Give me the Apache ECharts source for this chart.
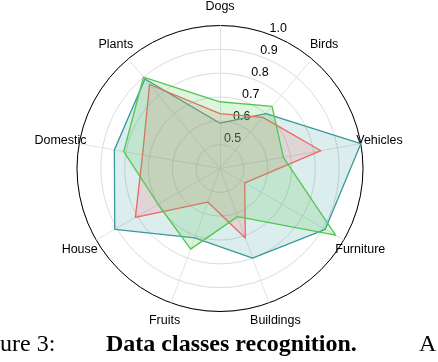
<!DOCTYPE html>
<html>
<head>
<meta charset="utf-8">
<script src="https://cdn.jsdelivr.net/npm/echarts@6/dist/echarts.min.js"></script>
<style>
  html, body { margin: 0; padding: 0; background: #fff; }
  #chart { width: 438px; height: 362px; }
</style>
</head>
<body>
<div id="chart"></div>
<script>
// classes, clockwise from the top
const categories = ['Dogs', 'Birds', 'Vehicles', 'Furniture', 'Buildings', 'Fruits', 'House', 'Domestic', 'Plants']
// radial scale
const rMin = 0.4
const rMax = 1.0
const tickLabels = ['0.5', '0.6', '0.7', '0.8', '0.9', '1.0']
// series values, same order as categories
const tealValues = [0.59, 0.70, 1.00, 0.91, 0.80, 0.71, 0.91, 0.85, 0.89]
const redValues = [0.63, 0.68, 0.83, 0.52, 0.71, 0.55, 0.81, 0.73, 0.86]
const greenValues = [0.68, 0.74, 0.67, 0.96, 0.615, 0.76, 0.70, 0.81, 0.90]

// echarts radar goes counter-clockwise, so flip the order (keep first on top)
const order = categories.map((c, i) => (i === 0 ? 0 : categories.length - i))
const flip = arr => order.map(i => arr[i])

const cx = 220
const cy = 168.5
const R = 143

const chart = echarts.init(document.getElementById('chart'))

const mkSeries = (vals, line, fill) => ({
  value: flip(vals),
  symbol: 'none',
  lineStyle: { color: line, width: 1.3 },
  areaStyle: { color: fill },
})

chart.setOption({
  animation: false,
  backgroundColor: '#fff',
  radar: {
    center: [cx, cy],
    radius: R,
    startAngle: 90,
    shape: 'circle',
    splitNumber: 6,
    indicator: flip(categories).map(n => ({ name: n, min: rMin, max: rMax })),
    axisNameGap: 19,
    axisName: {
      color: '#000',
      fontSize: 12.5,
      fontFamily: 'Liberation Sans',
      align: 'center',
      verticalAlign: 'middle',
    },
    axisLine: { lineStyle: { color: '#dcdcdc', width: 0.8 } },
    splitLine: {
      lineStyle: {
        // last one is the outer ring
        color: ['#dcdcdc', '#dcdcdc', '#dcdcdc', '#dcdcdc', '#dcdcdc', '#dcdcdc', '#000'],
        width: 1,
      },
    },
    splitArea: { show: false },
  },
  // only used for the radial tick labels
  polar: {
    center: [cx + 9 * Math.sin(Math.PI / 8), cy - 9 * Math.cos(Math.PI / 8)],
    radius: R,
  },
  angleAxis: {
    type: 'value',
    startAngle: 67.5,
    min: 0,
    max: 360,
    axisLine: { show: false },
    axisTick: { show: false },
    axisLabel: { show: false },
    splitLine: { show: false },
  },
  radiusAxis: {
    type: 'value',
    min: rMin,
    max: rMax,
    interval: 0.1,
    axisLine: { show: false },
    axisTick: { show: false },
    splitLine: { show: false },
    axisLabel: {
      showMinLabel: false,
      margin: 0,
      align: 'center',
      verticalAlign: 'middle',
      color: '#000',
      fontSize: 12.5,
      fontFamily: 'Liberation Sans',
      formatter: v => tickLabels.find(t => Math.abs(parseFloat(t) - v) < 1e-6) || '',
    },
  },
  series: [
    {
      type: 'radar',
      data: [
        mkSeries(tealValues, '#3a9a9c', 'rgba(58,154,156,0.25)'),
        mkSeries(redValues, '#f26464', 'rgba(242,100,100,0.25)'),
        mkSeries(greenValues, '#52c852', 'rgba(82,200,82,0.28)'),
      ],
    },
  ],
  // caption, cut off at the page edges like the scan
  graphic: [
    {
      type: 'text',
      left: -32,
      top: 333,
      style: { text: 'Figure 3:', font: '24px "Liberation Serif"', fill: '#000' },
    },
    {
      type: 'text',
      left: 106,
      top: 333,
      style: { text: 'Data classes recognition.', font: 'bold 24px "Liberation Serif"', fill: '#000' },
    },
    {
      type: 'text',
      left: 419,
      top: 333,
      style: { text: 'A', font: '24px "Liberation Serif"', fill: '#000' },
    },
  ],
})

window.addEventListener('resize', () => {
  chart.resize()
})
</script>
</body>
</html>
